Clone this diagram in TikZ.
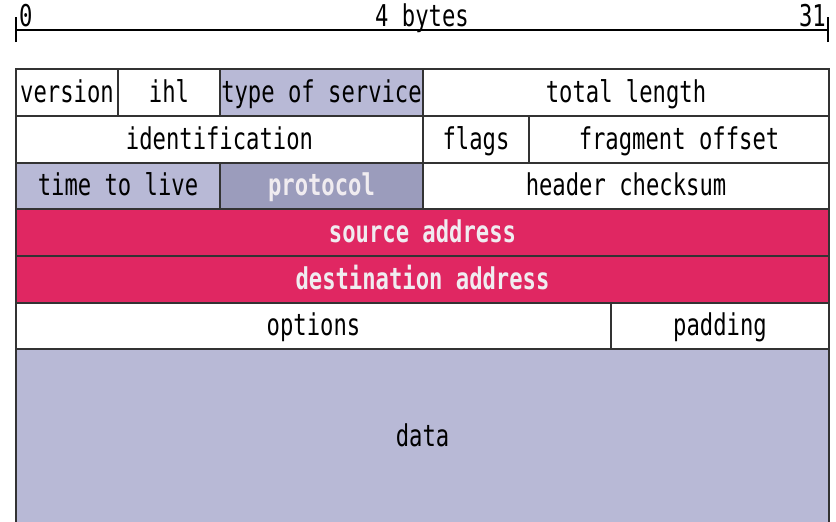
\documentclass[tikz,border=0pt]{standalone}
\usepackage{fontspec}
\newfontfamily\cellfont[FakeStretch=0.74]{DejaVu Sans Mono}
\definecolor{lav}{HTML}{B8B9D6}
\definecolor{lavdark}{HTML}{9B9CBC}
\definecolor{hot}{HTML}{E02762}
\definecolor{pale}{HTML}{F0ECF0}
\begin{document}
\begin{tikzpicture}[x=1pt,y=-1pt,
  cell/.style={draw=black!80, line width=1.2pt, inner sep=0pt, outer sep=0pt,
    text height=23pt, text depth=4pt,
    font=\cellfont\fontsize{30}{34}\selectfont, text=black},
  boldcell/.style={cell, font=\cellfont\bfseries\fontsize{30}{34}\selectfont, text=pale},
  scalelbl/.style={inner sep=0pt, font=\cellfont\fontsize{30}{34}\selectfont}]
\useasboundingbox (0,0) rectangle (836,522);
\begin{scope}
\clip (0,0) rectangle (836,522);
% scale
\coordinate (s0) at (16,30);
\coordinate (s1) at (828,30);
\draw[line width=2pt] (s0) -- (s1);
\draw[line width=1.6pt] ([yshift=-12pt]s0) -- ([yshift=13pt]s0);
\draw[line width=1.6pt] ([yshift=-12pt]s1) -- ([yshift=13pt]s1);
\node[scalelbl, anchor=base west] (l0) at (19,27) {0};
\node[scalelbl, anchor=base] (lmid) at (422,27) {4 bytes};
\node[scalelbl, anchor=base east] (l31) at (826,27) {31};
% row 1
\node[cell, minimum width=102pt, minimum height=47pt] (version) at (67,92.5) {version};
\node[cell, minimum width=102pt, minimum height=47pt] (ihl) at (169,92.5) {ihl};
\node[cell, fill=lav, minimum width=203pt, minimum height=47pt] (tos) at (321.5,92.5) {type of service};
\node[cell, minimum width=406pt, minimum height=47pt] (total) at (626,92.5) {total length};
% row 2
\node[cell, minimum width=407pt, minimum height=47pt] (ident) at (219.5,139.5) {identification};
\node[cell, minimum width=106pt, minimum height=47pt] (flags) at (476,139.5) {flags};
\node[cell, minimum width=300pt, minimum height=47pt] (frag) at (679,139.5) {fragment offset};
% row 3
\node[cell, fill=lav, minimum width=204pt, minimum height=46pt] (ttl) at (118,186) {time to live};
\node[boldcell, fill=lavdark, minimum width=203pt, minimum height=46pt] (proto) at (321.5,186) {protocol};
\node[cell, minimum width=406pt, minimum height=46pt] (check) at (626,186) {header checksum};
% row 4, 5
\node[boldcell, fill=hot, minimum width=813pt, minimum height=47pt] (src) at (422.5,232.5) {source address};
\node[boldcell, fill=hot, minimum width=813pt, minimum height=47pt] (dst) at (422.5,279.5) {destination address};
% row 6
\node[cell, minimum width=595pt, minimum height=46pt] (opt) at (313.5,326) {options};
\node[cell, minimum width=218pt, minimum height=46pt] (pad) at (720,326) {padding};
% data
\node[cell, fill=lav, minimum width=813pt, minimum height=190pt] (data) at (422.5,444) {};
\node[scalelbl, text height=23pt, text depth=4pt] (datalbl) at (422.5,437) {data};
\end{scope}
\end{tikzpicture}
\end{document}
